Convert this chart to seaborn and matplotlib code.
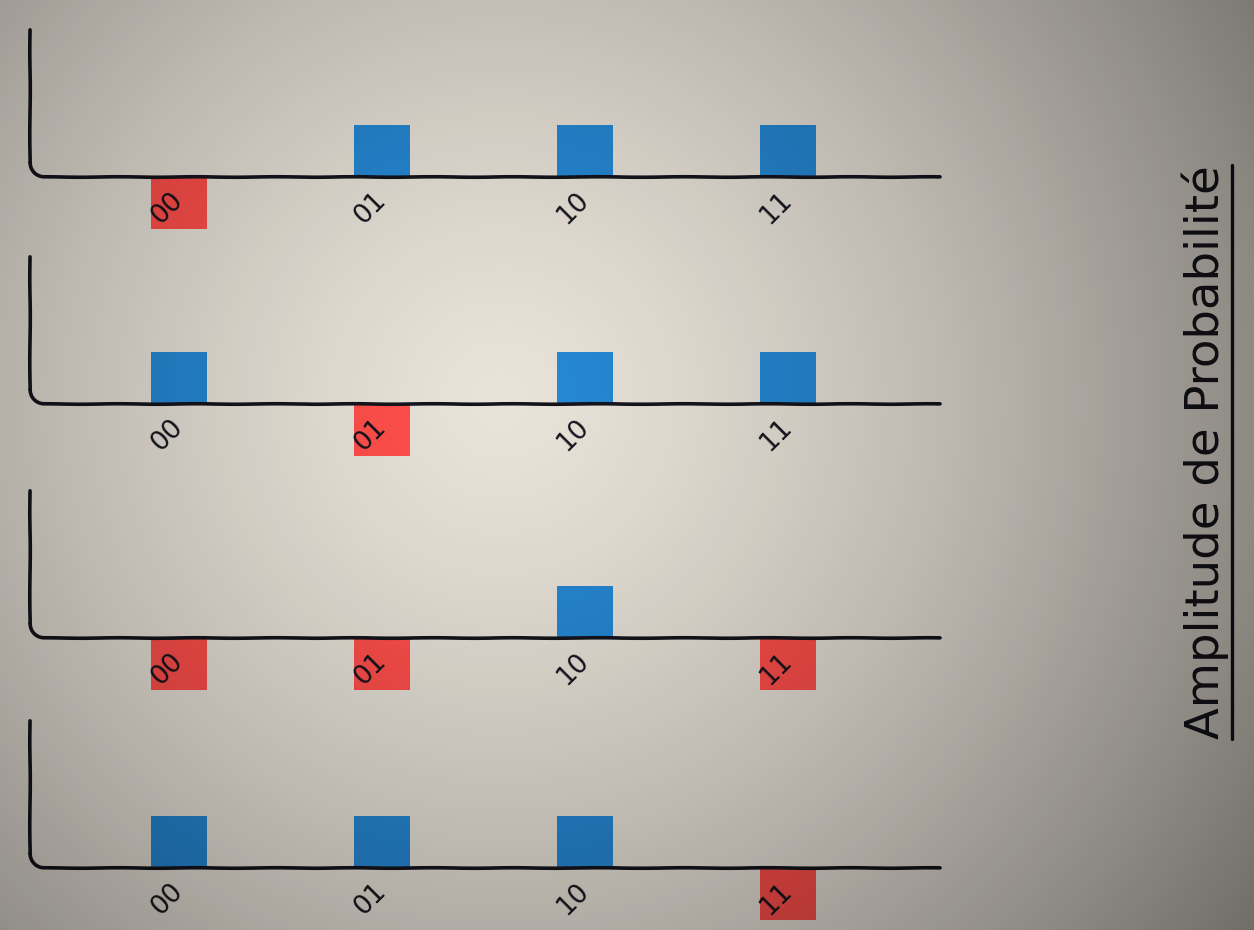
import numpy as np
import pandas as pd
import matplotlib.pyplot as plt
from matplotlib.lines import Line2D
import seaborn as sns

# Data: four 2-qubit states, amplitude sign per panel (+1 blue, -1 red)
states = ['00', '01', '10', '11']
amp_panel1 = [-1, 1, 1, 1]
amp_panel2 = [1, -1, 1, 1]
amp_panel3 = [-1, -1, 1, -1]
amp_panel4 = [1, 1, 1, -1]
panels = [amp_panel1, amp_panel2, amp_panel3, amp_panel4]
title = 'Amplitude de Probabilité'

blue = '#2688d4'
red = '#ff4f4b'
ink = '#14141c'

sns.set_theme(style='white')
plt.rcParams['font.family'] = ['DejaVu Sans']

W, H = 1254, 930
fig = plt.figure(figsize=(W / 100, H / 100), dpi=100)

# background (beige centre, vignette added at the end)
bg = fig.add_axes([0, 0, 1, 1], zorder=-5)
bg.imshow(np.ones((2, 2, 3)) * np.array([232, 226, 216]) / 255, aspect='auto',
          extent=[0, 1, 0, 1])
bg.axis('off')

baselines = [177, 404, 638, 868]   # pixel rows of the x axis line
x_left, x_right = -0.744, 3.749
y_low, y_high = -1.0, 2.83
unit = 52  # px per amplitude unit

for amps, b in zip(panels, baselines):
    top_px = b - unit * y_high
    bot_px = b - unit * y_low
    ax = fig.add_axes([28 / W, 1 - bot_px / H, 912 / W, (bot_px - top_px) / H])
    df = pd.DataFrame({'state': states, 'amp': amps,
                       'sign': ['pos' if a > 0 else 'neg' for a in amps]})
    sns.barplot(data=df, x='state', y='amp', hue='sign',
                palette={'pos': blue, 'neg': red}, dodge=False, width=0.28,
                legend=False, ax=ax, saturation=1, linewidth=0, edgecolor='none')
    ax.set_xlim(x_left, x_right)
    ax.set_ylim(y_low, y_high)
    ax.patch.set_alpha(0)
    for s in ax.spines.values():
        s.set_visible(False)
    ax.spines['bottom'].set_position(('data', 0))
    ax.set_yticks([])
    ax.set_xlabel('')
    ax.set_ylabel('')
    ax.xaxis.set_zorder(10)
    ax.tick_params(axis='x', length=0, pad=14)
    ax.set_xticks(range(len(states)))
    ax.set_xticklabels(states, rotation=45, ha='right', va='center',
                       rotation_mode='anchor', fontsize=19, color=ink)

    # hand-drawn style axis with rounded corner
    rx, ry = 14 / 203, 14 / unit
    x0 = x_left + 0.01
    th = np.linspace(np.pi, 1.5 * np.pi, 20)
    xs = np.concatenate([[x0, x0], x0 + rx + rx * np.cos(th), [x_right]])
    ys = np.concatenate([[y_high, ry], ry + ry * np.sin(th), [0]])
    line, = ax.plot(xs, ys, color=ink, lw=2.6, solid_capstyle='round',
                    clip_on=False, zorder=5)
    line.set_sketch_params(0.25, 90, 2)

# rotated, underlined title on the right
t = fig.text(1205 / W, 1 - 452 / H, title, rotation=90, ha='center', va='center',
             fontsize=33.5, color=ink)
fig.canvas.draw()
bb = t.get_window_extent()
ux = (bb.x1 + 3) / W
fig.add_artist(Line2D([ux, ux], [bb.y0 / H, bb.y1 / H], color=ink, lw=2.4,
                      transform=fig.transFigure))

# vignette overlay
yy, xx = np.mgrid[0:H:4, 0:W:4]
r = np.hypot(xx - 500, yy - 400) / 900
alpha = np.clip(0.5 * r ** 1.4, 0, 0.6)
overlay = np.zeros(alpha.shape + (4,))
overlay[..., 3] = alpha
ov = fig.add_axes([0, 0, 1, 1], zorder=50)
ov.imshow(overlay, aspect='auto', extent=[0, 1, 0, 1], interpolation='bilinear')
ov.axis('off')

fig.savefig('out.png', dpi=100)
